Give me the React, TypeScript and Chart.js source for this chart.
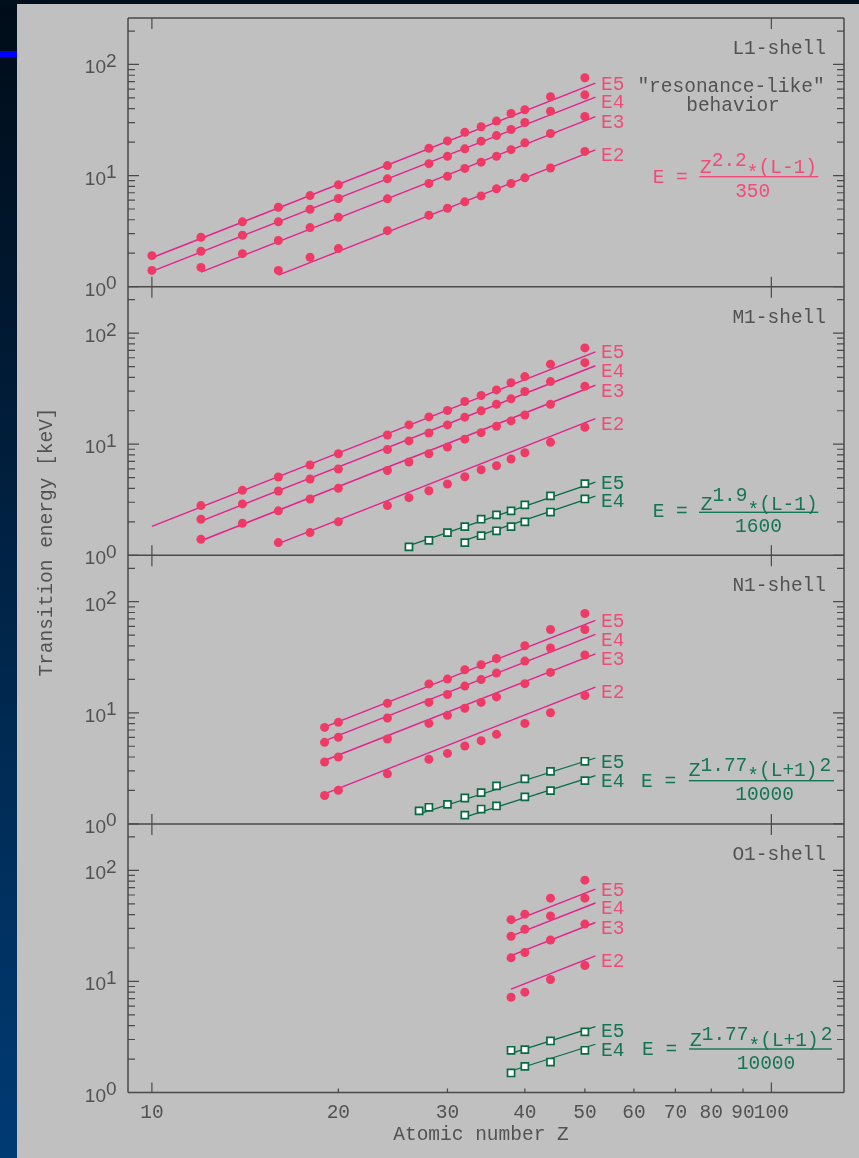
import React, { useEffect, useRef } from "react";
import { Chart, registerables } from "chart.js";
Chart.register(...registerables);

const W = 859;
const H = 1158;

// ---------- tick labels / text ----------
const X_TICKS = [10, 20, 30, 40, 50, 60, 70, 80, 90, 100];
const X_MAJOR = [10, 100];
const Y_MAJOR = [1, 10, 100];
const Y_MINOR = [2, 3, 4, 5, 6, 7, 8, 9, 20, 30, 40, 50, 60, 70, 80, 90, 200];
const Y_EXP = ["0", "1", "2"];
const SHELLS = ["L1-shell", "M1-shell", "N1-shell", "O1-shell"];
const PINK_NAMES = ["E5", "E4", "E3", "E2"];
const GREEN_NAMES = ["E5", "E4"];
const LINE_END_Z = 52;

// ---------- L1 shell ----------
const L1_Z = [10, 12, 14, 16, 18, 20, 24, 28, 30, 32, 34, 36, 38, 40, 44, 50];
const L1_E5 = [1.9, 2.78, 3.83, 5.18, 6.6, 8.25, 12.3, 17.6, 20.5, 24.5, 27.5, 30.9, 36.2, 39.1, 51.2, 75.9];
const L1_E4 = [1.4, 2.08, 2.9, 3.83, 4.97, 6.21, 9.34, 12.8, 14.9, 17.4, 20.4, 22.9, 26.0, 30.0, 38.0, 53.3];
const L1_E3 = [null, 1.49, 1.98, 2.6, 3.4, 4.21, 6.17, 8.47, 9.86, 11.6, 13.2, 14.9, 17.1, 19.7, 23.9, 34.0];
const L1_E2 = [null, null, null, 1.4, 1.84, 2.2, 3.19, 4.39, 5.08, 5.8, 6.56, 7.59, 8.47, 9.53, 11.7, 16.5];
const L1_LINE_Z0 = [10, 10, 12, 16];
const L1_LINE_E0 = [1.82, 1.37, 1.35, 1.27];
const L1_LINE_E1 = [67.8, 50.8, 33.9, 17.0];

// ---------- M1 shell ----------
const M1_Z = [12, 14, 16, 18, 20, 24, 26, 28, 30, 32, 34, 36, 38, 40, 44, 50];
const M1_E5 = [2.8, 3.84, 5.06, 6.49, 8.2, 12.1, 14.9, 17.6, 20.1, 24.2, 27.4, 30.8, 35.8, 40.6, 52.5, 73.5];
const M1_E4 = [2.11, 2.9, 3.79, 4.86, 5.97, 8.96, 10.7, 12.6, 14.9, 17.5, 19.95, 22.9, 25.6, 29.8, 36.6, 54.2];
const M1_E3 = [1.39, 1.94, 2.51, 3.21, 4.0, 5.8, 6.91, 8.2, 9.42, 11.1, 12.7, 14.5, 16.2, 18.3, 22.9, 33.3];
const M1_E2 = [null, null, 1.3, 1.6, 2.0, 2.8, 3.3, 3.81, 4.38, 5.09, 5.89, 6.4, 7.35, 8.37, 10.4, 14.2];
const M1_LINE_Z0 = [10, 12, 12, 16];
const M1_LINE_E0 = [1.82, 2.03, 1.35, 1.27];
const M1_LINE_E1 = [67.8, 50.8, 33.9, 17.0];
const M1G_Z = [26, 28, 30, 32, 34, 36, 38, 40, 44, 50];
const M1G_E5 = [1.19, 1.36, 1.6, 1.81, 2.11, 2.31, 2.51, 2.84, 3.42, 4.41];
const M1G_E4 = [null, null, null, 1.3, 1.5, 1.66, 1.81, 2.0, 2.45, 3.21];
const M1G_LINE_Z0 = [26, 32];
const M1G_LINE_E0 = [1.22, 1.36];
const M1G_LINE_E1 = [4.55, 3.41];

// ---------- N1 shell ----------
const N1_Z = [19, 20, 24, 28, 30, 32, 34, 36, 40, 44, 50];
const N1_E5 = [7.39, 8.2, 12.2, 18.2, 20.1, 24.4, 27.1, 30.8, 40.1, 56.2, 78.3];
const N1_E4 = [5.42, 6.01, 8.98, 12.4, 14.6, 17.4, 19.9, 22.8, 29.2, 38.3, 56.2];
const N1_E3 = [3.61, 4.0, 5.81, 8.03, 9.48, 11.0, 12.4, 13.9, 18.3, 23.1, 33.1];
const N1_E2 = [1.8, 2.01, 2.82, 3.81, 4.31, 5.03, 5.61, 6.4, 8.03, 10.0, 14.3];
const N1_LINE_Z0 = [19, 19, 19, 19];
const N1_LINE_E0 = [7.44, 5.58, 3.72, 1.86];
const N1_LINE_E1 = [67.8, 50.8, 33.9, 17.0];
const N1G_Z = [27, 28, 30, 32, 34, 36, 40, 44, 50];
const N1G_E5 = [1.31, 1.41, 1.5, 1.71, 1.91, 2.2, 2.54, 2.97, 3.66];
const N1G_E4 = [null, null, null, 1.2, 1.36, 1.45, 1.75, 1.99, 2.45];
const N1G_LINE_Z0 = [27, 32];
const N1G_LINE_E0 = [1.23, 1.15];
const N1G_LINE_E1 = [3.92, 2.72];

// ---------- O1 shell ----------
const O1_Z = [38, 40, 44, 50];
const O1_E5 = [36.0, 40.3, 56.2, 81.6];
const O1_E4 = [25.5, 29.5, 38.9, 56.2];
const O1_E3 = [16.3, 18.2, 23.6, 32.8];
const O1_E2 = [7.2, 8.0, 10.4, 13.9];
const O1_LINE_Z0 = [38, 38, 38, 38];
const O1_LINE_E0 = [34.2, 25.6, 17.1, 8.54];
const O1_LINE_E1 = [67.8, 50.8, 33.9, 17.0];
const O1G_Z = [38, 40, 44, 50];
const O1G_E5 = [2.4, 2.43, 2.91, 3.51];
const O1G_E4 = [1.5, 1.72, 1.88, 2.4];
const O1G_LINE_Z0 = [38, 38];
const O1G_LINE_E0 = [2.25, 1.56];
const O1G_LINE_E1 = [3.92, 2.72];

// ---------- styles ----------
const PINK_PT = "#ef3a66";
const PINK_LINE = "#e6208c";
const PINK_TXT = "#f04c78";
const GREEN = "#076a45";
const GREEN_TXT = "#137555";
const AXIS = "#4a4a4a";
const TXT = "#525252";
const MONO = '"Liberation Mono", "DejaVu Sans Mono", monospace';
const SANS = '"Liberation Sans", Arial, sans-serif';

const PANELS = [
  { axis: "y1", Z: L1_Z, pink: [L1_E5, L1_E4, L1_E3, L1_E2], lz0: L1_LINE_Z0, le0: L1_LINE_E0, le1: L1_LINE_E1, gZ: null as any, green: [] as any[], gz0: [] as number[], ge0: [] as number[], ge1: [] as number[] },
  { axis: "y2", Z: M1_Z, pink: [M1_E5, M1_E4, M1_E3, M1_E2], lz0: M1_LINE_Z0, le0: M1_LINE_E0, le1: M1_LINE_E1, gZ: M1G_Z, green: [M1G_E5, M1G_E4], gz0: M1G_LINE_Z0, ge0: M1G_LINE_E0, ge1: M1G_LINE_E1 },
  { axis: "y3", Z: N1_Z, pink: [N1_E5, N1_E4, N1_E3, N1_E2], lz0: N1_LINE_Z0, le0: N1_LINE_E0, le1: N1_LINE_E1, gZ: N1G_Z, green: [N1G_E5, N1G_E4], gz0: N1G_LINE_Z0, ge0: N1G_LINE_E0, ge1: N1G_LINE_E1 },
  { axis: "y4", Z: O1_Z, pink: [O1_E5, O1_E4, O1_E3, O1_E2], lz0: O1_LINE_Z0, le0: O1_LINE_E0, le1: O1_LINE_E1, gZ: O1G_Z, green: [O1G_E5, O1G_E4], gz0: O1G_LINE_Z0, ge0: O1G_LINE_E0, ge1: O1G_LINE_E1 },
];

function pts(Z: number[], E: (number | null)[]) {
  const out: { x: number; y: number }[] = [];
  Z.forEach((z, i) => {
    const e = E[i];
    if (e != null) out.push({ x: z, y: e });
  });
  return out;
}

function buildDatasets() {
  const points: any[] = [];
  const lines: any[] = [];
  PANELS.forEach((p) => {
    p.pink.forEach((E) => {
      points.push({
        data: pts(p.Z, E),
        yAxisID: p.axis,
        showLine: false,
        pointRadius: 4.5,
        pointHoverRadius: 4.5,
        pointBackgroundColor: PINK_PT,
        pointBorderWidth: 0,
        pointStyle: "circle",
      });
    });
    if (p.gZ) {
      p.green.forEach((E: any) => {
        points.push({
          data: pts(p.gZ, E),
          yAxisID: p.axis,
          showLine: false,
          pointRadius: 5,
          pointHoverRadius: 5,
          pointBackgroundColor: "#ffffff",
          pointBorderColor: GREEN,
          pointBorderWidth: 1.7,
          pointStyle: "rect",
        });
      });
    }
    p.lz0.forEach((z0, i) => {
      lines.push({
        data: [{ x: z0, y: p.le0[i] }, { x: LINE_END_Z, y: p.le1[i] }],
        yAxisID: p.axis,
        showLine: true,
        pointRadius: 0,
        borderColor: PINK_LINE,
        borderWidth: 1.4,
        endLabel: PINK_NAMES[i],
        labelColor: PINK_TXT,
        labelGroup: p.axis + "p",
      });
    });
    p.gz0.forEach((z0, i) => {
      lines.push({
        data: [{ x: z0, y: p.ge0[i] }, { x: LINE_END_Z, y: p.ge1[i] }],
        yAxisID: p.axis,
        showLine: true,
        pointRadius: 0,
        borderColor: GREEN,
        borderWidth: 1.2,
        endLabel: GREEN_NAMES[i],
        labelColor: GREEN_TXT,
        labelGroup: p.axis + "g",
      });
    });
  });
  return points.concat(lines);
}

function drawFormula(ctx: CanvasRenderingContext2D, o: any) {
  ctx.save();
  ctx.fillStyle = o.color;
  ctx.font = `19.5px ${MONO}`;
  ctx.textAlign = "left";
  ctx.textBaseline = "alphabetic";
  const cw = ctx.measureText("0").width;
  ctx.fillText("E =", o.ex, o.eb);
  let x = o.nx;
  ctx.fillText("Z", x, o.nb);
  x += cw;
  ctx.fillText(o.sup, x, o.sb);
  x += cw * o.sup.length;
  ctx.fillText("*", x, o.nb + 6);
  x += cw;
  ctx.fillText(o.rest, x, o.nb);
  x += cw * o.rest.length;
  if (o.sup2) ctx.fillText(o.sup2, x + 2, o.sb);
  ctx.fillRect(o.bl, o.by - 0.7, o.br - o.bl, 1.4);
  ctx.textAlign = "center";
  ctx.fillText(o.den, o.dc, o.db);
  ctx.restore();
}

const framePlugin = {
  id: "frame",
  beforeDraw(chart: any) {
    const ctx: CanvasRenderingContext2D = chart.ctx;
    ctx.save();
    const g = ctx.createLinearGradient(0, 0, 0, H);
    g.addColorStop(0, "#000c18");
    g.addColorStop(1, "#003b74");
    ctx.fillStyle = g;
    ctx.fillRect(0, 0, W, H);
    ctx.fillStyle = "#000f1c";
    ctx.fillRect(0, 0, W, 4);
    ctx.fillStyle = "#c0c0c0";
    ctx.fillRect(17, 4, W - 17, H - 4);
    ctx.fillStyle = "#0000ff";
    ctx.fillRect(0, 51, 17, 6);
    ctx.restore();
  },
  beforeDatasetsDraw(chart: any) {
    const ctx: CanvasRenderingContext2D = chart.ctx;
    const xs = chart.scales.x;
    const { left, right } = chart.chartArea;
    const ys = ["y1", "y2", "y3", "y4"].map((id) => chart.scales[id]);
    ctx.save();
    ctx.strokeStyle = AXIS;
    ctx.lineWidth = 1.5;
    ctx.beginPath();
    ctx.moveTo(left, ys[0].top);
    ctx.lineTo(left, ys[3].bottom);
    ctx.moveTo(right, ys[0].top);
    ctx.lineTo(right, ys[3].bottom);
    ys.forEach((s: any) => {
      ctx.moveTo(left, s.top);
      ctx.lineTo(right, s.top);
      ctx.moveTo(left, s.bottom);
      ctx.lineTo(right, s.bottom);
    });
    ctx.stroke();

    ctx.lineWidth = 1.2;
    ctx.beginPath();
    ys.forEach((s: any, pi: number) => {
      const draw = (v: number, len: number) => {
        const y = s.getPixelForValue(v);
        ctx.moveTo(left, y);
        ctx.lineTo(left + len, y);
        ctx.moveTo(right, y);
        ctx.lineTo(right - len, y);
      };
      Y_MAJOR.forEach((v) => draw(v, 11));
      Y_MINOR.forEach((v) => draw(v, 7));
      X_MAJOR.forEach((v) => {
        const x = xs.getPixelForValue(v);
        ctx.moveTo(x, s.top);
        ctx.lineTo(x, s.top + 11);
        ctx.moveTo(x, s.bottom);
        ctx.lineTo(x, s.bottom - 10);
      });
      if (pi === 3) {
        X_TICKS.forEach((v) => {
          if (X_MAJOR.includes(v)) return;
          const x = xs.getPixelForValue(v);
          ctx.moveTo(x, s.bottom);
          ctx.lineTo(x, s.bottom - 4);
        });
      }
    });
    ctx.stroke();

    // y tick labels 10^n
    ctx.fillStyle = TXT;
    ctx.textBaseline = "alphabetic";
    ys.forEach((s: any) => {
      Y_MAJOR.forEach((v, i) => {
        const y = s.getPixelForValue(v);
        ctx.font = `19px ${SANS}`;
        ctx.textAlign = "right";
        ctx.fillText("10", 106, y + 9);
        ctx.textAlign = "left";
        ctx.fillText(Y_EXP[i], 106, y + 2.5);
      });
    });

    // x tick labels
    ctx.font = `19.5px ${MONO}`;
    ctx.textAlign = "center";
    X_TICKS.forEach((v) => {
      ctx.fillText(String(v), xs.getPixelForValue(v), ys[3].bottom + 25.5);
    });
    ctx.fillText("Atomic number Z", 481, 1140);

    ctx.save();
    ctx.translate(47, 542);
    ctx.rotate(-Math.PI / 2);
    ctx.textBaseline = "middle";
    ctx.fillText("Transition energy [keV]", 0, 0);
    ctx.restore();

    // shell labels
    ctx.textAlign = "right";
    ys.forEach((s: any, i: number) => {
      ctx.fillText(SHELLS[i], 826, s.top + 36);
    });
    ctx.textAlign = "center";
    ctx.fillText('"resonance-like"', 731, 91.7);
    ctx.fillText("behavior", 733, 111);
    ctx.restore();
  },
  afterDatasetsDraw(chart: any) {
    const ctx: CanvasRenderingContext2D = chart.ctx;
    ctx.save();
    ctx.font = `19.5px ${MONO}`;
    ctx.textAlign = "left";
    ctx.textBaseline = "alphabetic";
    // collect end labels per group, then stack them so they do not overlap
    const groups: Record<string, any[]> = {};
    chart.data.datasets.forEach((ds: any, i: number) => {
      if (!ds.endLabel) return;
      const meta = chart.getDatasetMeta(i);
      const p = meta.data[meta.data.length - 1];
      (groups[ds.labelGroup] = groups[ds.labelGroup] || []).push({ x: p.x, cy: p.y + 4.5, text: ds.endLabel, color: ds.labelColor });
    });
    Object.values(groups).forEach((arr) => {
      arr.sort((a, b) => b.cy - a.cy);
      for (let k = 1; k < arr.length; k++) {
        arr[k].cy = Math.min(arr[k].cy, arr[k - 1].cy - 18.7);
      }
      arr.forEach((l) => {
        ctx.fillStyle = l.color;
        ctx.fillText(l.text, l.x + 5.5, l.cy + 6.8);
      });
    });
    ctx.restore();

    drawFormula(ctx, { color: PINK_TXT, ex: 652.7, eb: 182.7, nx: 700, nb: 173.3, sup: "2.2", sb: 166, rest: "(L-1)", bl: 699.3, br: 818.3, by: 176.7, den: "350", dc: 752.7, db: 196.7 });
    drawFormula(ctx, { color: GREEN_TXT, ex: 652.7, eb: 517.3, nx: 700.7, nb: 510, sup: "1.9", sb: 501.3, rest: "(L-1)", bl: 699, br: 818.3, by: 512.3, den: "1600", dc: 758.5, db: 531.7 });
    drawFormula(ctx, { color: GREEN_TXT, ex: 641, eb: 786.7, nx: 688.8, nb: 776, sup: "1.77", sb: 770.7, rest: "(L+1)", sup2: "2", bl: 688.8, br: 834, by: 780.7, den: "10000", dc: 764.6, db: 800 });
    drawFormula(ctx, { color: GREEN_TXT, ex: 642, eb: 1055, nx: 690, nb: 1046, sup: "1.77", sb: 1040, rest: "(L+1)", sup2: "2", bl: 689, br: 832, by: 1049, den: "10000", dc: 766, db: 1069 });
  },
};

export default function App() {
  const ref = useRef<HTMLCanvasElement | null>(null);
  useEffect(() => {
    const canvas = ref.current;
    if (!canvas) return;
    const yScale = (w: number) => ({
      type: "logarithmic" as const,
      min: 1,
      max: 262,
      display: false,
      position: "left" as const,
      stack: "energy",
      stackWeight: 1,
      weight: w,
    });
    const chart = new Chart(canvas, {
      type: "scatter",
      data: { datasets: buildDatasets() },
      options: {
        animation: false,
        responsive: false,
        devicePixelRatio: 1,
        events: [],
        layout: { padding: { left: 128, top: 18, right: 15, bottom: 65.5 } },
        plugins: { legend: { display: false }, tooltip: { enabled: false } },
        scales: {
          x: { type: "logarithmic", min: 9.15, max: 131, display: false, position: "bottom" },
          y1: yScale(4),
          y2: yScale(3),
          y3: yScale(2),
          y4: yScale(1),
        } as any,
      },
      plugins: [framePlugin as any],
    });
    return () => chart.destroy();
  }, []);
  return (
    <div style={{ position: "fixed", left: 0, top: 0, width: W, height: H, overflow: "hidden" }}>
      <canvas ref={ref} width={W} height={H} style={{ width: W, height: H, display: "block" }} />
    </div>
  );
}
